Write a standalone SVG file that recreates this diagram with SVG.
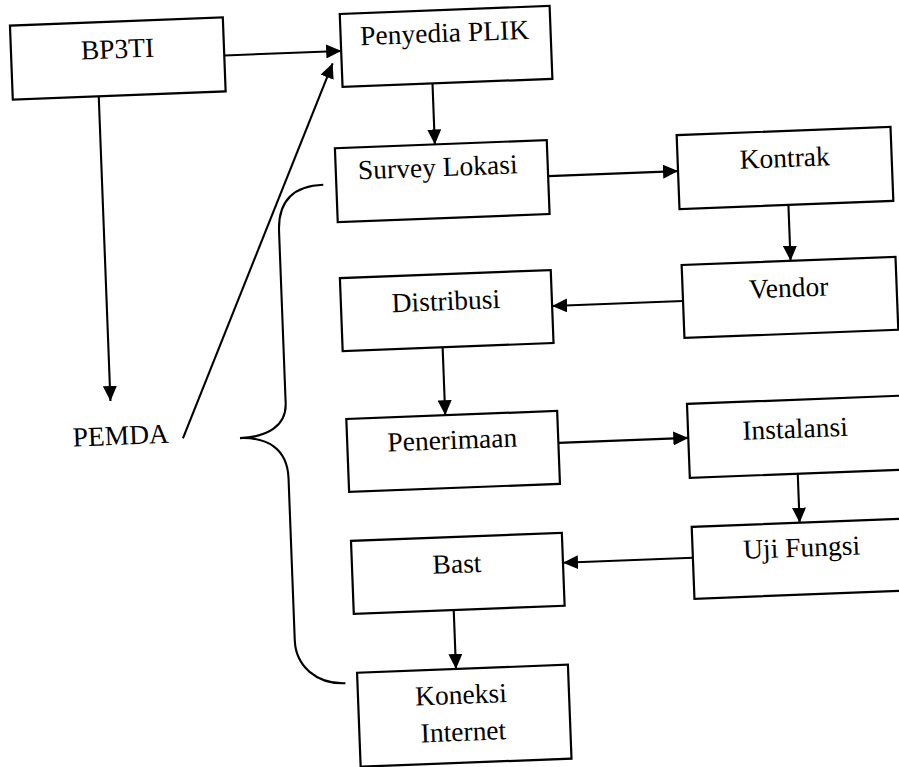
<svg xmlns="http://www.w3.org/2000/svg" width="899" height="767" viewBox="0 0 899 767">
<style>
.box{fill:#fff;stroke:#000;stroke-width:2.2}
.t{font-family:"Liberation Serif","Times New Roman",serif;font-size:27.5px;fill:#000;text-anchor:middle}
.c{fill:none;stroke:#000;stroke-width:2.1}
</style>
<defs>
<marker id="ah" markerUnits="userSpaceOnUse" markerWidth="15" markerHeight="14" refX="15" refY="7" orient="auto">
<path d="M0,0 L15,7 L0,14 z" fill="#000"/>
</marker>
</defs>
<rect width="899" height="767" fill="#fff"/>
<g transform="rotate(-2.2 450 383)">
<g id="connectors">
<path class="c" d="M237,47 L354,47" marker-end="url(#ah)"/>
<path class="c" d="M110,83 L110,388" marker-end="url(#ah)"/>
<path class="c" d="M181,428 L345,59" marker-end="url(#ah)"/>
<path class="c" d="M444,83 L444,144" marker-end="url(#ah)"/>
<path class="c" d="M556,180 L686,180" marker-end="url(#ah)"/>
<path class="c" d="M795,218 L795,274" marker-end="url(#ah)"/>
<path class="c" d="M686,310 L555,310" marker-end="url(#ah)"/>
<path class="c" d="M444,347 L444,415" marker-end="url(#ah)"/>
<path class="c" d="M556,447 L686,447" marker-end="url(#ah)"/>
<path class="c" d="M794,487 L794,536" marker-end="url(#ah)"/>
<path class="c" d="M686,567 L556,567" marker-end="url(#ah)"/>
<path class="c" d="M445,610 L445,669" marker-end="url(#ah)"/>
<path id="brace" class="c" d="M331,180 C300,180 285,195 285,225 L285,397 C285,420 265,430 238,430 C265,430 285,442 285,472 L285,634 C285,660 305,679 334,679"/>
</g>
<g id="bp3ti"><rect class="box" x="24" y="9" width="213" height="74"/><text class="t" x="130.5" y="45.5">BP3TI</text></g>
<g id="penyedia"><rect class="box" x="354" y="10" width="210" height="73"/><text class="t" x="458" y="42">Penyedia PLIK</text></g>
<g id="survey"><rect class="box" x="344" y="144" width="212" height="74"/><text class="t" x="446" y="176">Survey Lokasi</text></g>
<g id="kontrak"><rect class="box" x="686" y="144" width="214" height="74"/><text class="t" x="793" y="180">Kontrak</text></g>
<g id="vendor"><rect class="box" x="686" y="274" width="214" height="73"/><text class="t" x="792" y="310">Vendor</text></g>
<g id="distribusi"><rect class="box" x="344" y="274" width="211" height="73"/><text class="t" x="449" y="310">Distribusi</text></g>
<g id="penerimaan"><rect class="box" x="345" y="415" width="211" height="73"/><text class="t" x="450" y="449">Penerimaan</text></g>
<g id="instalansi"><rect class="box" x="686" y="413" width="214" height="74"/><text class="t" x="793" y="451">Instalansi</text></g>
<g id="uji"><rect class="box" x="686" y="536" width="214" height="72"/><text class="t" x="795" y="570">Uji Fungsi</text></g>
<g id="bast"><rect class="box" x="345" y="537" width="211" height="73"/><text class="t" x="450" y="573">Bast</text></g>
<g id="koneksi"><rect class="box" x="346" y="669" width="211" height="94"/><text class="t" x="449" y="704">Koneksi</text><text class="t" x="450" y="741">Internet</text></g>
<g id="pemda"><text class="t" x="119" y="432">PEMDA</text></g>
</g>
</svg>
